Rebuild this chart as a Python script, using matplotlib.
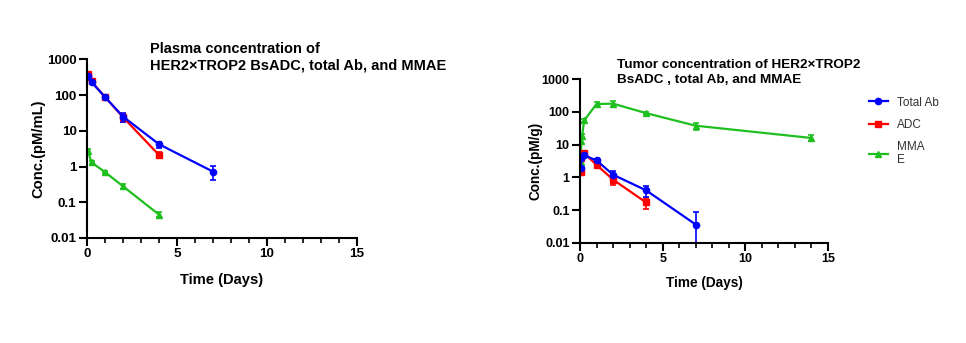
import matplotlib
matplotlib.use("Agg")
import matplotlib.pyplot as plt
from matplotlib.lines import Line2D
from matplotlib.ticker import FixedLocator, NullLocator, MultipleLocator, FuncFormatter

plt.rcParams['font.family'] = ['Liberation Sans', 'DejaVu Sans']

# ---- Plasma data ----
pl_ab_t = [0.0417, 0.25, 1, 2, 4, 7]
pl_ab_v = [350, 230, 88, 25, 4.2, 0.72]
pl_ab_e = [40, 25, 8, 7, 0.8, 0.3]

pl_adc_t = [0.0417, 0.083, 0.25, 1, 2, 4]
pl_adc_v = [400, 330, 240, 88, 24, 2.1]
pl_adc_e = [40, 30, 25, 8, 6, 0.4]

pl_mmae_t = [0.0417, 0.25, 1, 2, 4]
pl_mmae_v = [2.8, 1.3, 0.7, 0.28, 0.045]
pl_mmae_e = [0.3, 0.1, 0.05, 0.05, 0.007]

# ---- Tumor data ----
tu_ab_t = [0.0417, 0.083, 0.25, 1, 2, 4, 7]
tu_ab_v = [2.0, 4.0, 4.7, 3.3, 1.2, 0.4, 0.036]
tu_ab_e = [0.3, 0.5, 0.5, 0.3, 0.4, 0.15, 0.05]

tu_adc_t = [0.0417, 0.083, 0.25, 1, 2, 4]
tu_adc_v = [1.5, 3.8, 5.5, 2.4, 0.85, 0.17]
tu_adc_e = [0.25, 0.5, 0.8, 0.3, 0.28, 0.06]

tu_mmae_t = [0.0417, 0.083, 0.125, 0.25, 1, 2, 4, 7, 14]
tu_mmae_v = [3.0, 13, 18, 55, 175, 180, 92, 38, 16]
tu_mmae_e = [0.5, 2, 3, 6, 32, 40, 8, 9, 3.5]

legend_labels = ['Total Ab', 'ADC', 'MMA\nE']

blue = '#0000FF'
red = '#FF0000'
green = '#1FBF1F'

fig = plt.figure(figsize=(9.66, 3.43), dpi=100)

ax1 = fig.add_axes([87/966, 1-238/343, (357-87)/966, (238-59.3)/343])
ax2 = fig.add_axes([580/966, 1-242.7/343, (828-580)/966, (242.7-79.3)/343])

def draw(ax, series):
    for t, v, e, c, m in series:
        ax.errorbar(t, v, yerr=e, color=c, marker=m, markersize=4.5,
                    linewidth=1.6, elinewidth=1.2, capsize=2.5, capthick=1.2)

draw(ax1, [
    (pl_adc_t, pl_adc_v, pl_adc_e, red, 's'),
    (pl_mmae_t, pl_mmae_v, pl_mmae_e, green, '^'),
    (pl_ab_t, pl_ab_v, pl_ab_e, blue, 'o'),
])
draw(ax2, [
    (tu_mmae_t, tu_mmae_v, tu_mmae_e, green, '^'),
    (tu_adc_t, tu_adc_v, tu_adc_e, red, 's'),
    (tu_ab_t, tu_ab_v, tu_ab_e, blue, 'o'),
])

def fmt(y, pos):
    if y >= 1:
        return f"{int(round(y))}"
    return f"{y:g}"

for ax, ylabel, tfs, lfs, ylp, xlp in [(ax1, 'Conc.(pM/mL)', 9.7, 10.6, 1, 9),
                                       (ax2, 'Conc.(pM/g)', 9.0, 9.8, -1, 8)]:
    ax.set_yscale('log')
    ax.set_ylim(0.01, 1000)
    ax.set_xlim(0, 15)
    ax.yaxis.set_major_locator(FixedLocator([0.01, 0.1, 1, 10, 100, 1000]))
    ax.yaxis.set_minor_locator(NullLocator())
    ax.yaxis.set_major_formatter(FuncFormatter(fmt))
    ax.xaxis.set_major_locator(FixedLocator([0, 5, 10, 15]))
    ax.xaxis.set_minor_locator(MultipleLocator(1))
    for s in ['top', 'right']:
        ax.spines[s].set_visible(False)
    for s in ['left', 'bottom']:
        ax.spines[s].set_linewidth(1.5)
    ax.tick_params(which='major', width=1.5, length=6, labelsize=tfs, pad=1.5)
    ax.tick_params(which='minor', width=1.2, length=3.5)
    for lab in ax.get_xticklabels() + ax.get_yticklabels():
        lab.set_fontweight('bold')
    ax.set_xlabel('Time (Days)', fontsize=lfs, fontweight='bold', labelpad=xlp)
    ax.set_ylabel(ylabel, fontsize=lfs, fontweight='bold', labelpad=ylp)

fig.text(150/966, 1-57/343, 'Plasma concentration of\nHER2×TROP2 BsADC, total Ab, and MMAE',
         fontsize=10.5, fontweight='bold', ha='left', va='center', linespacing=1.25)
fig.text(617/966, 1-72.5/343, 'Tumor concentration of HER2×TROP2\nBsADC , total Ab, and MMAE',
         fontsize=9.7, fontweight='bold', ha='left', va='center', linespacing=1.4)

handles = [Line2D([], [], color=blue, marker='o', markersize=4.5, linewidth=1.6),
           Line2D([], [], color=red, marker='s', markersize=4.5, linewidth=1.6),
           Line2D([], [], color=green, marker='^', markersize=4.5, linewidth=1.6)]
leg = fig.legend(handles, legend_labels,
                 loc='upper left', bbox_to_anchor=(858/966, 1-86/343),
                 frameon=False, fontsize=8.5, handlelength=1.6, handletextpad=0.8,
                 labelspacing=0.85, labelcolor='#333333')

fig.savefig('out.png', dpi=100)
